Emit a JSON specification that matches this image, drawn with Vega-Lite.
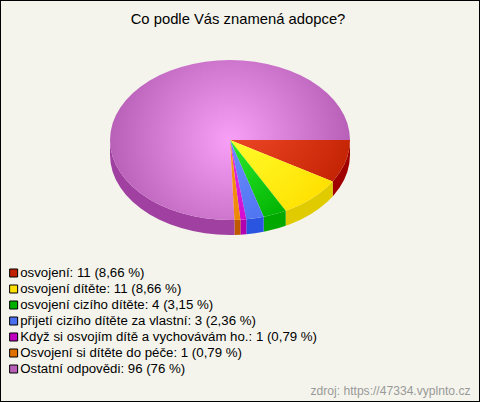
{
"$schema":"https://vega.github.io/schema/vega-lite/v6.json",
"width":480,"height":402,"padding":0,"autosize":{"type":"none"},
"background":"#f4f4ec",
"config":{"view":{"stroke":"#000","strokeWidth":2}},
"title":{"text":"Co podle Vás znamená adopce?","font":"Liberation Sans","fontSize":14.8,"fontWeight":"normal","color":"#000","anchor":"middle","offset":-27,"dx":-2},
"datasets":{
"answers":[
{"answer":"osvojení","count":11,"label":"osvojení: 11 (8,66 %)"},
{"answer":"osvojení dítěte","count":11,"label":"osvojení dítěte: 11 (8,66 %)"},
{"answer":"osvojení cizího dítěte","count":4,"label":"osvojení cizího dítěte: 4 (3,15 %)"},
{"answer":"přijetí cizího dítěte za vlastní","count":3,"label":"přijetí cizího dítěte za vlastní: 3 (2,36 %)"},
{"answer":"Když si osvojím dítě a vychovávám ho.","count":1,"label":"Když si osvojím dítě a vychovávám ho.: 1 (0,79 %)"},
{"answer":"Osvojení si dítěte do péče","count":1,"label":"Osvojení si dítěte do péče: 1 (0,79 %)"},
{"answer":"Ostatní odpovědi","count":96,"label":"Ostatní odpovědi: 96 (76 %)"}
],
"top":[
{"s":1,"o":0,"x":0,"y":0},{"s":1,"o":1,"x":1,"y":0},{"s":1,"o":2,"x":0.9945,"y":0.1045},{"s":1,"o":3,"x":0.9781,"y":0.2079},{"s":1,"o":4,"x":0.9511,"y":0.309},{"s":1,"o":5,"x":0.9135,"y":0.4067},{"s":1,"o":6,"x":0.866,"y":0.5},{"s":1,"o":7,"x":0.8556,"y":0.5177},
{"s":2,"o":0,"x":0,"y":0},{"s":2,"o":1,"x":0.8556,"y":0.5177},{"s":2,"o":2,"x":0.809,"y":0.5878},{"s":2,"o":3,"x":0.7431,"y":0.6691},{"s":2,"o":4,"x":0.6691,"y":0.7431},{"s":2,"o":5,"x":0.5878,"y":0.809},{"s":2,"o":6,"x":0.5,"y":0.866},{"s":2,"o":7,"x":0.464,"y":0.8859},
{"s":3,"o":0,"x":0,"y":0},{"s":3,"o":1,"x":0.464,"y":0.8859},{"s":3,"o":2,"x":0.4067,"y":0.9135},{"s":3,"o":3,"x":0.309,"y":0.9511},{"s":3,"o":4,"x":0.2806,"y":0.9598},
{"s":4,"o":0,"x":0,"y":0},{"s":4,"o":1,"x":0.2806,"y":0.9598},{"s":4,"o":2,"x":0.2079,"y":0.9781},{"s":4,"o":3,"x":0.1357,"y":0.9907},
{"s":5,"o":0,"x":0,"y":0},{"s":5,"o":1,"x":0.1357,"y":0.9907},{"s":5,"o":2,"x":0.1045,"y":0.9945},{"s":5,"o":3,"x":0.0865,"y":0.9963},
{"s":6,"o":0,"x":0,"y":0},{"s":6,"o":1,"x":0.0865,"y":0.9963},{"s":6,"o":2,"x":0.0372,"y":0.9993},
{"s":7,"o":0,"x":0,"y":0},{"s":7,"o":1,"x":0.0372,"y":0.9993},{"s":7,"o":2,"x":0,"y":1},{"s":7,"o":3,"x":-0.1045,"y":0.9945},{"s":7,"o":4,"x":-0.2079,"y":0.9781},{"s":7,"o":5,"x":-0.309,"y":0.9511},{"s":7,"o":6,"x":-0.4067,"y":0.9135},{"s":7,"o":7,"x":-0.5,"y":0.866},{"s":7,"o":8,"x":-0.5878,"y":0.809},{"s":7,"o":9,"x":-0.6691,"y":0.7431},{"s":7,"o":10,"x":-0.7431,"y":0.6691},{"s":7,"o":11,"x":-0.809,"y":0.5878},{"s":7,"o":12,"x":-0.866,"y":0.5},{"s":7,"o":13,"x":-0.9135,"y":0.4067},{"s":7,"o":14,"x":-0.9511,"y":0.309},{"s":7,"o":15,"x":-0.9781,"y":0.2079},{"s":7,"o":16,"x":-0.9945,"y":0.1045},{"s":7,"o":17,"x":-1,"y":0},
{"s":7,"o":18,"x":-0.9945,"y":-0.1045},{"s":7,"o":19,"x":-0.9781,"y":-0.2079},{"s":7,"o":20,"x":-0.9511,"y":-0.309},{"s":7,"o":21,"x":-0.9135,"y":-0.4067},{"s":7,"o":22,"x":-0.866,"y":-0.5},{"s":7,"o":23,"x":-0.809,"y":-0.5878},{"s":7,"o":24,"x":-0.7431,"y":-0.6691},{"s":7,"o":25,"x":-0.6691,"y":-0.7431},{"s":7,"o":26,"x":-0.5878,"y":-0.809},{"s":7,"o":27,"x":-0.5,"y":-0.866},{"s":7,"o":28,"x":-0.4067,"y":-0.9135},{"s":7,"o":29,"x":-0.309,"y":-0.9511},{"s":7,"o":30,"x":-0.2079,"y":-0.9781},{"s":7,"o":31,"x":-0.1045,"y":-0.9945},{"s":7,"o":32,"x":0,"y":-1},
{"s":7,"o":33,"x":0.1045,"y":-0.9945},{"s":7,"o":34,"x":0.2079,"y":-0.9781},{"s":7,"o":35,"x":0.309,"y":-0.9511},{"s":7,"o":36,"x":0.4067,"y":-0.9135},{"s":7,"o":37,"x":0.5,"y":-0.866},{"s":7,"o":38,"x":0.5878,"y":-0.809},{"s":7,"o":39,"x":0.6691,"y":-0.7431},{"s":7,"o":40,"x":0.7431,"y":-0.6691},{"s":7,"o":41,"x":0.809,"y":-0.5878},{"s":7,"o":42,"x":0.866,"y":-0.5},{"s":7,"o":43,"x":0.9135,"y":-0.4067},{"s":7,"o":44,"x":0.9511,"y":-0.309},{"s":7,"o":45,"x":0.9781,"y":-0.2079},{"s":7,"o":46,"x":0.9945,"y":-0.1045},{"s":7,"o":47,"x":1,"y":0}
],
"side":[
{"s":"1","x":1,"y":0,"b":0.1875},{"s":"1","x":0.9945,"y":0.1045,"b":0.292},{"s":"1","x":0.9781,"y":0.2079,"b":0.3954},{"s":"1","x":0.9511,"y":0.309,"b":0.4965},{"s":"1","x":0.9135,"y":0.4067,"b":0.5942},{"s":"1","x":0.866,"y":0.5,"b":0.6875},{"s":"1","x":0.8556,"y":0.5177,"b":0.7052},
{"s":"2","x":0.8556,"y":0.5177,"b":0.7052},{"s":"2","x":0.809,"y":0.5878,"b":0.7753},{"s":"2","x":0.7431,"y":0.6691,"b":0.8566},{"s":"2","x":0.6691,"y":0.7431,"b":0.9306},{"s":"2","x":0.5878,"y":0.809,"b":0.9965},{"s":"2","x":0.5,"y":0.866,"b":1.0535},{"s":"2","x":0.464,"y":0.8859,"b":1.0734},
{"s":"3","x":0.464,"y":0.8859,"b":1.0734},{"s":"3","x":0.4067,"y":0.9135,"b":1.101},{"s":"3","x":0.309,"y":0.9511,"b":1.1386},{"s":"3","x":0.2806,"y":0.9598,"b":1.1473},
{"s":"4","x":0.2806,"y":0.9598,"b":1.1473},{"s":"4","x":0.2079,"y":0.9781,"b":1.1656},{"s":"4","x":0.1357,"y":0.9907,"b":1.1782},
{"s":"5","x":0.1357,"y":0.9907,"b":1.1782},{"s":"5","x":0.1045,"y":0.9945,"b":1.182},{"s":"5","x":0.0865,"y":0.9963,"b":1.1838},
{"s":"6","x":0.0865,"y":0.9963,"b":1.1838},{"s":"6","x":0.0372,"y":0.9993,"b":1.1868},
{"s":"7","x":0.0372,"y":0.9993,"b":1.1868},{"s":"7","x":0,"y":1,"b":1.1875},{"s":"7","x":-0.1045,"y":0.9945,"b":1.182},{"s":"7","x":-0.2079,"y":0.9781,"b":1.1656},{"s":"7","x":-0.309,"y":0.9511,"b":1.1386},{"s":"7","x":-0.4067,"y":0.9135,"b":1.101},{"s":"7","x":-0.5,"y":0.866,"b":1.0535},{"s":"7","x":-0.5878,"y":0.809,"b":0.9965},{"s":"7","x":-0.6691,"y":0.7431,"b":0.9306},{"s":"7","x":-0.7431,"y":0.6691,"b":0.8566},{"s":"7","x":-0.809,"y":0.5878,"b":0.7753},{"s":"7","x":-0.866,"y":0.5,"b":0.6875},{"s":"7","x":-0.9135,"y":0.4067,"b":0.5942},{"s":"7","x":-0.9511,"y":0.309,"b":0.4965},{"s":"7","x":-0.9781,"y":0.2079,"b":0.3954},{"s":"7","x":-0.9945,"y":0.1045,"b":0.292},{"s":"7","x":-1,"y":0,"b":0.1875}
]
},
"data":{"name":"top"},
"encoding":{
"x":{"field":"x","type":"quantitative","scale":{"domain":[-1,1],"range":[110,350]},"axis":{"title":"zdroj: https://47334.vyplnto.cz","labels":false,"ticks":false,"domain":false,"grid":false,"titleFont":"Liberation Sans","titleFontSize":12.1,"titleFontWeight":"normal","titleColor":"#999999","titleAlign":"right","titleAnchor":"end","titleBaseline":"alphabetic","titleX":470,"titleY":-8}},
"y":{"field":"y","type":"quantitative","scale":{"domain":[-1,1],"range":[60,220]},"axis":null}
},
"layer":[
{"data":{"name":"answers"},"mark":{"type":"square","size":0},
 "encoding":{"x":{"datum":0,"type":"quantitative"},"y":{"datum":0,"type":"quantitative"},
 "color":{"field":"label","type":"nominal","sort":null,"scale":{"domain":["osvojení: 11 (8,66 %)","osvojení dítěte: 11 (8,66 %)","osvojení cizího dítěte: 4 (3,15 %)","přijetí cizího dítěte za vlastní: 3 (2,36 %)","Když si osvojím dítě a vychovávám ho.: 1 (0,79 %)","Osvojení si dítěte do péče: 1 (0,79 %)","Ostatní odpovědi: 96 (76 %)"],"range":["#c02000","#ffe000","#00b000","#4a70f0","#c000c0","#e07000","#b860b8"]},
 "legend":{"title":null,"orient":"none","legendX":7,"legendY":265,"symbolType":"square","symbolSize":64,"symbolStrokeColor":"#000","symbolStrokeWidth":1,"symbolOpacity":1,"labelFont":"Liberation Sans","labelFontSize":13.25,"labelColor":"#000","labelLimit":0,"labelOffset":0,"rowPadding":0,"clipHeight":16}}}},
{"data":{"name":"side"},"mark":{"type":"area"},
 "encoding":{"y2":{"field":"b"},"fill":{"field":"s","type":"nominal","legend":null,"scale":{"domain":["1","2","3","4","5","6","7"],"range":["#a00000","#e0cb00","#00a800","#2a55e0","#b000b0","#c05800","#a040a0"]}}}},
{"transform":[{"filter":"datum.s==7"}],"mark":{"type":"line","stroke":null,"fill":{"gradient":"radial","x1":0.5,"y1":0.5,"r1":0,"x2":0.5,"y2":0.5,"r2":0.5,"stops":[{"offset":0,"color":"#f8a0f8"},{"offset":1,"color":"#b860b8"}]}},"encoding":{"order":{"field":"o"}}},
{"transform":[{"filter":"datum.s==1"}],"mark":{"type":"line","stroke":null,"fill":{"gradient":"radial","x1":0,"y1":0,"r1":0,"x2":0,"y2":0,"r2":1.2,"stops":[{"offset":0,"color":"#f85030"},{"offset":1,"color":"#c02000"}]}},"encoding":{"order":{"field":"o"}}},
{"transform":[{"filter":"datum.s==2"}],"mark":{"type":"line","stroke":null,"fill":{"gradient":"radial","x1":0,"y1":0,"r1":0,"x2":0,"y2":0,"r2":1.15,"stops":[{"offset":0,"color":"#ffff30"},{"offset":1,"color":"#ffe000"}]}},"encoding":{"order":{"field":"o"}}},
{"transform":[{"filter":"datum.s==3"}],"mark":{"type":"line","stroke":null,"fill":{"gradient":"radial","x1":0,"y1":0,"r1":0,"x2":0,"y2":0,"r2":1.3,"stops":[{"offset":0,"color":"#30f030"},{"offset":1,"color":"#00b000"}]}},"encoding":{"order":{"field":"o"}}},
{"transform":[{"filter":"datum.s==4"}],"mark":{"type":"line","stroke":null,"fill":{"gradient":"radial","x1":0,"y1":0,"r1":0,"x2":0,"y2":0,"r2":1.41,"stops":[{"offset":0,"color":"#7090ff"},{"offset":1,"color":"#4a70f0"}]}},"encoding":{"order":{"field":"o"}}},
{"transform":[{"filter":"datum.s==5"}],"mark":{"type":"line","stroke":null,"fill":{"gradient":"radial","x1":0,"y1":0,"r1":0,"x2":0,"y2":0,"r2":1.41,"stops":[{"offset":0,"color":"#f040f0"},{"offset":1,"color":"#c800c8"}]}},"encoding":{"order":{"field":"o"}}},
{"transform":[{"filter":"datum.s==6"}],"mark":{"type":"line","stroke":null,"fill":{"gradient":"radial","x1":0,"y1":0,"r1":0,"x2":0,"y2":0,"r2":1.41,"stops":[{"offset":0,"color":"#ffa020"},{"offset":1,"color":"#e88000"}]}},"encoding":{"order":{"field":"o"}}},
{"data":{"name":"answers"},"transform":[{"filter":"datum.count==96"}],"mark":{"type":"text","font":"Liberation Sans","fontSize":10,"color":"#000"},
 "encoding":{"x":{"datum":-0.315,"type":"quantitative"},"y":{"datum":-0.275,"type":"quantitative"},"text":{"value":"76 %"}}}
]
}
